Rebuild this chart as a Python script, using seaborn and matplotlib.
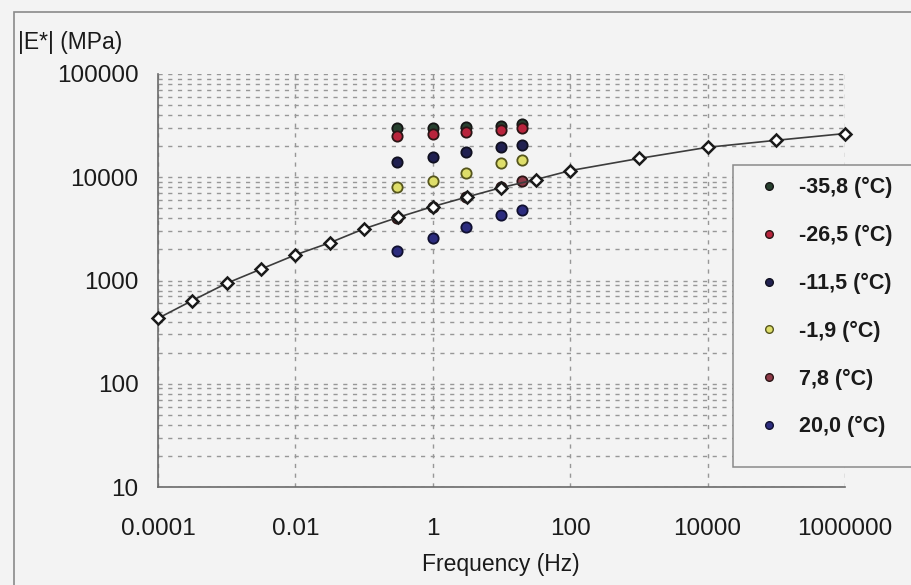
import numpy as np
import pandas as pd
import matplotlib
matplotlib.use("Agg")
import matplotlib.pyplot as plt
import seaborn as sns
from matplotlib.ticker import FixedLocator, FixedFormatter, LogLocator, NullFormatter, NullLocator
from matplotlib.patches import Rectangle
from matplotlib.lines import Line2D

# ---------------- data ----------------
freq_test = [0.3, 1, 3, 10, 20]
E_m35_8 = [29900, 29900, 30500, 31300, 32700]
E_m26_5 = [25100, 26100, 27400, 28600, 29900]
E_m11_5 = [14000, 15600, 17500, 19500, 20400]
E_m1_9 = [8000, 9300, 10900, 13700, 14600]
E_p7_8 = [4000, 5200, 6400, 8000, 9100]
E_p20_0 = [1950, 2600, 3270, 4280, 4790]

temp_labels = ["-35,8 (°C)", "-26,5 (°C)", "-11,5 (°C)", "-1,9 (°C)", "7,8 (°C)", "20,0 (°C)"]

master_freq = [0.0001, 0.000316, 0.001, 0.00316, 0.01, 0.0316, 0.1, 0.316, 1, 3.16,
               10, 31.6, 100, 1000, 10000, 100000, 1000000]
master_E = [430, 640, 940, 1290, 1770, 2320, 3170, 4100, 5200, 6450,
            7950, 9500, 11600, 15200, 19500, 22800, 26500]

x_ticks = [0.0001, 0.01, 1, 100, 10000, 1000000]
x_tick_labels = ["0.0001", "0.01", "1", "100", "10000", "1000000"]
y_ticks = [10, 100, 1000, 10000, 100000]
y_tick_labels = ["10", "100", "1000", "10000", "100000"]

series = [E_m35_8, E_m26_5, E_m11_5, E_m1_9, E_p7_8, E_p20_0]
face_colors = ["#27402f", "#b8243c", "#202050", "#dede6a", "#8e3a48", "#2c2c7e"]
edge_colors = ["#151515", "#2a1515", "#101020", "#55551c", "#2a1515", "#101030"]

df = pd.DataFrame({
    "freq": [f for s in series for f in freq_test],
    "E": [v for s in series for v in s],
    "temp": [lab for lab, s in zip(temp_labels, series) for _ in s],
})
df_master = pd.DataFrame({"freq": master_freq, "E": master_E})

# ---------------- figure ----------------
sns.set_theme(style="white")
plt.rcParams["font.family"] = ["Liberation Sans", "DejaVu Sans"]

bg = "#f3f3f3"
fig = plt.figure(figsize=(9.12, 5.85), dpi=100, facecolor=bg)
ax = fig.add_axes([158 / 912, 1 - 487 / 585, (845 - 158) / 912, (487 - 74) / 585])
ax.set_facecolor(bg)

ax.set_xscale("log")
ax.set_yscale("log")

for lab, fc, ec in zip(temp_labels, face_colors, edge_colors):
    sub = df[df["temp"] == lab]
    sns.scatterplot(data=sub, x="freq", y="E", ax=ax, color=fc, edgecolor=ec,
                    linewidth=1.3, s=55, legend=False, zorder=3)

sns.lineplot(data=df_master, x="freq", y="E", ax=ax, color="#3c3c3c", lw=1.2,
             marker="D", markersize=6.5, markerfacecolor="white",
             markeredgecolor="#1a1a1a", markeredgewidth=1.8, zorder=4, clip_on=False)

ax.set_xlim(1e-4, 1e6)
ax.set_ylim(10, 1e5)

ax.xaxis.set_major_locator(FixedLocator(x_ticks))
ax.xaxis.set_major_formatter(FixedFormatter(x_tick_labels))
ax.xaxis.set_minor_locator(NullLocator())
ax.yaxis.set_major_locator(FixedLocator(y_ticks))
ax.yaxis.set_major_formatter(FixedFormatter(y_tick_labels))
ax.yaxis.set_minor_locator(LogLocator(base=10, subs=np.arange(2, 10)))
ax.yaxis.set_minor_formatter(NullFormatter())

ax.set_xlabel("")
ax.set_ylabel("")

grid_style = dict(linestyle=(0, (3, 4)), color="#979797", lw=1.0)
ax.yaxis.grid(True, which="both", **grid_style)
ax.xaxis.grid(True, which="major", **grid_style)
ax.set_axisbelow(True)

for side in ["top", "right"]:
    ax.spines[side].set_visible(False)
for side in ["left", "bottom"]:
    ax.spines[side].set_color("#6a6a6a")
    ax.spines[side].set_linewidth(1.2)

ax.tick_params(axis="both", which="major", direction="inout", length=8, width=1.1,
               color="#6a6a6a", labelsize=17.5, labelcolor="#1a1a1a")
ax.tick_params(axis="x", which="major", pad=18)
ax.tick_params(axis="y", which="major", pad=10)
ax.tick_params(axis="y", which="minor", length=0)

fig.text(18 / 912, 1 - 42 / 585, "|E*| (MPa)", fontsize=16.5, ha="left", va="center", color="#1a1a1a")
fig.text(501 / 912, 1 - 565 / 585, "Frequency (Hz)", fontsize=16.5, ha="center", va="center", color="#1a1a1a")

# outer chart border
fig.patches.append(Rectangle((14 / 912, -0.02), 1.0, 1 - 12 / 585 + 0.02, transform=fig.transFigure,
                             fill=False, edgecolor="#8a8a8a", lw=1.2, zorder=1))
# legend box
fig.patches.append(Rectangle((733 / 912, 1 - 467 / 585), 0.25, (467 - 165) / 585, transform=fig.transFigure,
                             facecolor=bg, edgecolor="#8a8a8a", lw=1.1, zorder=5))

handles = [Line2D([], [], linestyle="", marker="o", markersize=5.5, markerfacecolor=fc,
                  markeredgecolor=ec, markeredgewidth=1.0) for fc, ec in zip(face_colors, edge_colors)]
leg = fig.legend(handles, temp_labels, loc="upper left", bbox_to_anchor=(737 / 912, 1 - 158 / 585),
                 frameon=False, prop=dict(size=15.5, weight="bold"), labelspacing=1.24,
                 handletextpad=0.8, handlelength=1.2)
leg.set_zorder(6)
for t in leg.get_texts():
    t.set_color("#1a1a1a")

fig.savefig("out.png", dpi=100, facecolor=bg)
